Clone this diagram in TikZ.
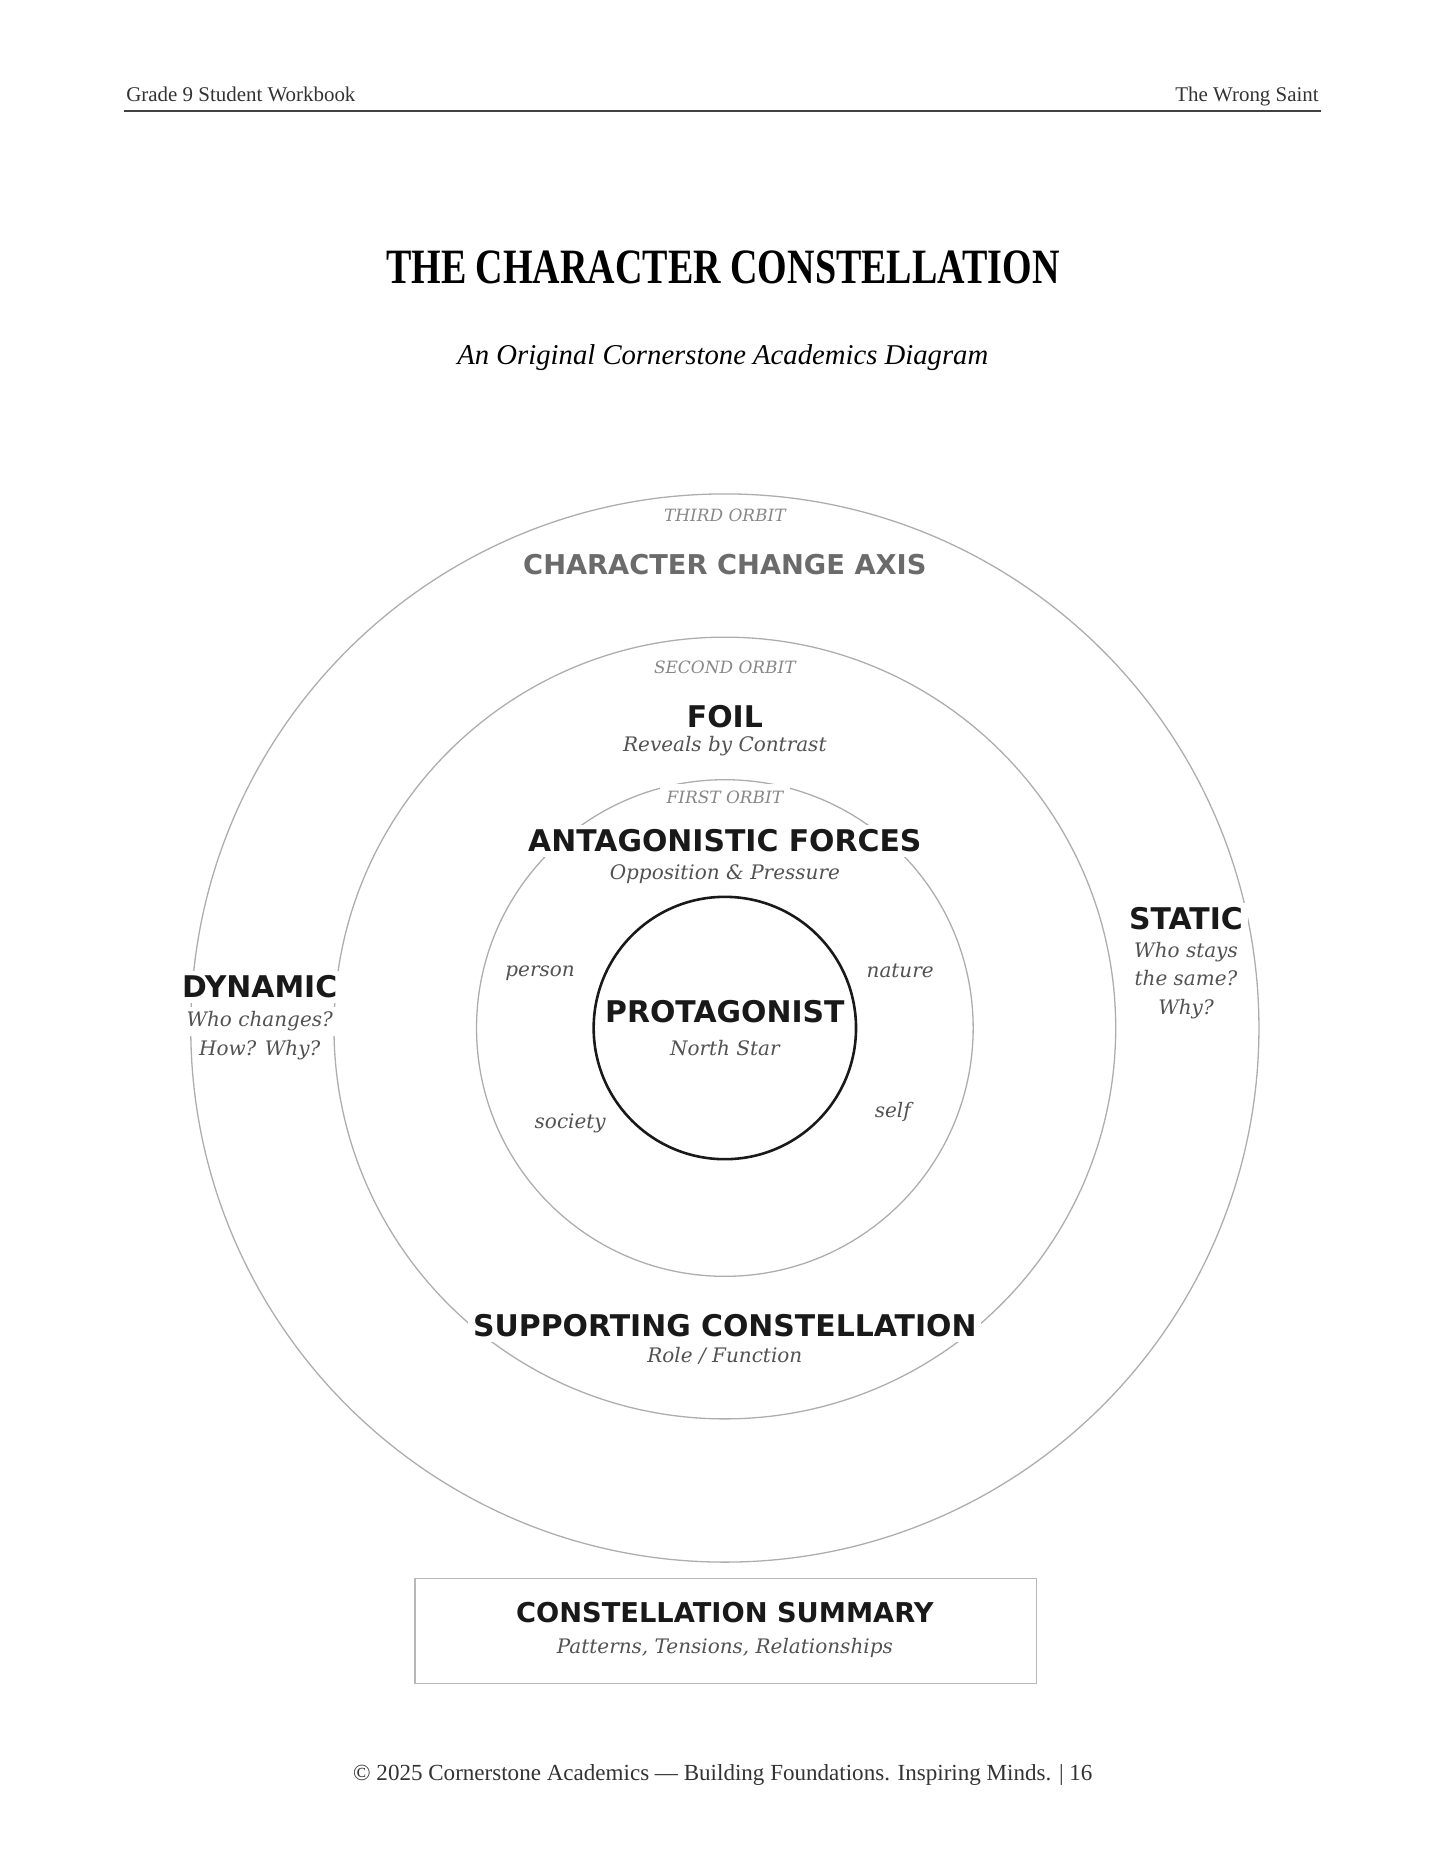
\documentclass[tikz,border=0pt]{standalone}
\usepackage{fontspec}
\setmainfont{Liberation Serif}
\newfontfamily\sanslabel{DejaVu Sans}
\newfontfamily\seriflabel{DejaVu Serif}
\newfontfamily\headline[FakeStretch=0.77]{Liberation Serif}

\tikzset{
	orbit/.style = {draw = black!32, line width = 0.55pt},
	core/.style = {draw = black!90, line width = 1.1pt},
	mask/.style = {fill = white, inner sep = 2pt},
	bigword/.style = {font = \sanslabel\bfseries\fontsize{12.7}{15}\selectfont, text = black!90},
	hint/.style = {font = \seriflabel\itshape\fontsize{8.5}{12}\selectfont, text = black!68},
	orbitname/.style = {font = \seriflabel\itshape\fontsize{7.2}{9}\selectfont, text = black!47},
	pagetext/.style = {font = \fontsize{8.9}{10}\selectfont, text = black!80, inner sep = 0pt}
}

\begin{document}
\begin{tikzpicture}
	\useasboundingbox (0, 0) rectangle (21.59, 27.94);
	
	% page header
	\node[pagetext, anchor = base west] (grade) at (1.88, 26.42) {Grade 9 Student Workbook};
	\node[pagetext, anchor = base east] (book) at (19.71, 26.42) {The Wrong Saint};
	\draw[black!75, line width = 0.6pt] (1.85, 26.28) -- (19.74, 26.28);
	
	\node[anchor = base, font = \headline\bfseries\fontsize{21}{25}\selectfont] (title) at (10.80, 23.71) {THE CHARACTER CONSTELLATION};
	\node[anchor = base, font = \itshape\fontsize{12.2}{15}\selectfont] (subtitle) at (10.80, 22.50) {An Original Cornerstone Academics Diagram};
	
	% orbits
	\coordinate (star) at (10.83, 12.58);
	\draw[orbit] (star) circle (7.98);
	\draw[orbit] (star) circle (5.84);
	\draw[orbit] (star) circle (3.71);
	\draw[core] (star) circle (1.96);
	
	% third orbit
	\node[orbitname] (third) at (10.83, 20.24) {THIRD ORBIT};
	\node[bigword, font = \sanslabel\bfseries\fontsize{11.6}{14}\selectfont, text = black!58] (axis) at (10.83, 19.51) {CHARACTER CHANGE AXIS};
	\node[bigword, mask] (dynamic) at (3.88, 13.20) {DYNAMIC};
	\node[hint, mask] (dynamicq) at (3.88, 12.68) {Who changes?};
	\node[hint, mask] (dynamicw) at (3.88, 12.25) {How? Why?};
	\node[bigword, mask] (static) at (17.72, 14.21) {STATIC};
	\node[hint, align = center] (staticq) at (17.72, 13.29) {Who stays\\the same?\\Why?};
	
	% second orbit
	\node[orbitname] (second) at (10.83, 17.97) {SECOND ORBIT};
	\node[bigword] (foil) at (10.83, 17.24) {FOIL};
	\node[hint] (foilq) at (10.83, 16.79) {Reveals by Contrast};
	\node[bigword, mask] (support) at (10.83, 8.13) {SUPPORTING CONSTELLATION};
	\node[hint] (supportq) at (10.83, 7.68) {Role / Function};
	
	% first orbit
	\node[orbitname, mask, inner sep = 3pt] (first) at (10.83, 16.03) {FIRST ORBIT};
	\node[bigword, mask] (forces) at (10.83, 15.38) {ANTAGONISTIC FORCES};
	\node[hint] (forcesq) at (10.83, 14.88) {Opposition \& Pressure};
	\node[hint] (person) at (8.07, 13.40) {person};
	\node[hint] (nature) at (13.45, 13.43) {nature};
	\node[hint] (society) at (8.52, 11.15) {society};
	\node[hint] (self) at (13.34, 11.33) {self};
	
	% centre
	\node[bigword] (hero) at (10.83, 12.82) {PROTAGONIST};
	\node[hint] (heroq) at (10.83, 12.28) {North Star};
	
	% summary box
	\draw[black!28, line width = 0.55pt] (6.20, 2.79) rectangle (15.49, 4.36);
	\node[bigword, font = \sanslabel\bfseries\fontsize{11.6}{14}\selectfont] (summary) at (10.83, 3.84) {CONSTELLATION SUMMARY};
	\node[hint] (summaryq) at (10.83, 3.32) {Patterns, Tensions, Relationships};
	
	% footer
	\node[pagetext, anchor = base, font = \fontsize{9.8}{11}\selectfont] (footer) at (10.80, 1.34) {© 2025 Cornerstone Academics — Building Foundations. Inspiring Minds. | 16};
\end{tikzpicture}
\end{document}
